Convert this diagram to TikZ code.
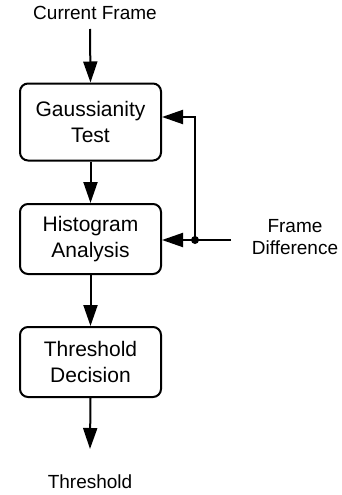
\documentclass[tikz,border=0pt]{standalone}
\usepackage{fontspec}
\setmainfont{Liberation Sans}
\usetikzlibrary{arrows.meta}
\begin{document}
\begin{tikzpicture}[x=1pt,y=-1pt,
  blk/.style={draw, line width=2pt, rounded corners=8pt, minimum width=141pt, minimum height=77pt, align=center, inner sep=0pt, font=\fontsize{21}{25.5}\selectfont},
  lbl/.style={align=center, inner sep=0pt, font=\fontsize{19}{21.5}\selectfont},
  conn/.style={line width=2pt, -{Triangle[length=21pt,width=14pt]}}]
\useasboundingbox (0,0) rectangle (342,495);
\node[lbl] (cf) at (95,13) {Current Frame};
\node[blk] (gt) at (90.5,122) {Gaussianity\\Test};
\node[blk, minimum height=70pt] (ha) at (90.5,239) {Histogram\\Analysis};
\node[blk, minimum height=70pt] (td) at (90.5,362) {Threshold\\Decision};
\node[lbl] (th) at (90,482) {Threshold};
\node[lbl] (fd) at (295,237) {Frame\\Difference};
\coordinate (start) at (90,29);
\coordinate (endth) at (90,449);
\coordinate (src) at (231,240);
\coordinate (dot) at (195,240);
\coordinate (turn) at (195,117);
\draw[conn] (start) -- (gt.north);
\draw[conn] (gt.south) -- (ha.north);
\draw[conn] (ha.south) -- (td.north);
\draw[conn] (td.south) -- (endth);
\draw[conn] (src) -- (ha.east |- src);
\draw[conn] (dot) -- (turn) -- (gt.east |- turn);
\fill (dot) circle (4pt);
\end{tikzpicture}
\end{document}
